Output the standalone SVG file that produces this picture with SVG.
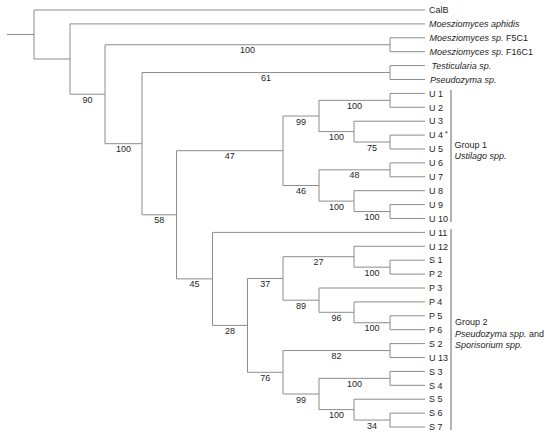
<svg xmlns="http://www.w3.org/2000/svg" width="550" height="435" viewBox="0 0 550 435">
<style>
.br{fill:none;stroke:#8c8c8c;stroke-width:1}
.bar{fill:none;stroke:#666;stroke-width:1}
text{font-family:"Liberation Sans",Arial,sans-serif;font-size:9px;fill:#1e1e1e}
.bs{text-anchor:middle}
.it{font-style:italic}
</style>
<rect width="550" height="435" fill="#fff"/>
<g id="connectors" class="br">
<path d="M7 34.5H34M34 10V59M34 10H425M34 59H70"/>
<path d="M70 23.9V94.2M70 23.9H425M70 94.2H105"/>
<path d="M105 44.75V143.7M105 44.75H390M105 143.7H142"/>
<path d="M390 37.8V51.7M390 37.8H425M390 51.7H425"/>
<path d="M142 72.55V214.8M142 72.55H390M142 214.8H176.5"/>
<path d="M390 65.6V79.5M390 65.6H425M390 79.5H425"/>
<path d="M176.5 150.7V278.9M176.5 150.7H283M176.5 278.9H212.5"/>
<path d="M283 116V185.5M283 116H319M283 185.5H319"/>
<path d="M319 100.35V131.6M319 100.35H390M319 131.6H354"/>
<path d="M390 93.4V107.3M390 93.4H425M390 107.3H425"/>
<path d="M354 121.2V142.05M354 121.2H425M354 142.05H390"/>
<path d="M390 135.1V149M390 135.1H425M390 149H425"/>
<path d="M319 169.85V201.1M319 169.85H390M319 201.1H354"/>
<path d="M390 162.9V176.8M390 162.9H425M390 176.8H425"/>
<path d="M354 190.7V211.55M354 190.7H425M354 211.55H390"/>
<path d="M390 204.6V218.5M390 204.6H425M390 218.5H425"/>
<path d="M212.5 232.4V325.4M212.5 232.4H425M212.5 325.4H247.5"/>
<path d="M247.5 278.5V372.3M247.5 278.5H283M247.5 372.3H283"/>
<path d="M283 256.7V300.2M283 256.7H354M283 300.2H319"/>
<path d="M354 246.3V267.15M354 246.3H425M354 267.15H390"/>
<path d="M390 260.2V274.1M390 260.2H425M390 274.1H425"/>
<path d="M319 288V312.3M319 288H425M319 312.3H354"/>
<path d="M354 301.9V322.75M354 301.9H425M354 322.75H390"/>
<path d="M390 315.8V329.7M390 315.8H425M390 329.7H425"/>
<path d="M283 350.55V394M283 350.55H390M283 394H319"/>
<path d="M390 343.6V357.5M390 343.6H425M390 357.5H425"/>
<path d="M319 378.35V409.6M319 378.35H390M319 409.6H354"/>
<path d="M390 371.4V385.3M390 371.4H425M390 385.3H425"/>
<path d="M354 399.2V420.05M354 399.2H425M354 420.05H390"/>
<path d="M390 413.1V427M390 413.1H425M390 427H425"/>
</g>
<g id="bootstrap" class="bs">
<text class="bs" x="87.5" y="102.7">90</text>
<text class="bs" x="247.5" y="53.2">100</text>
<text class="bs" x="123.5" y="152.2">100</text>
<text class="bs" x="266" y="81">61</text>
<text class="bs" x="159.25" y="223.3">58</text>
<text class="bs" x="229.75" y="159.2">47</text>
<text class="bs" x="301" y="124.5">99</text>
<text class="bs" x="354.5" y="108.85">100</text>
<text class="bs" x="336.5" y="140.1">100</text>
<text class="bs" x="372" y="150.55">75</text>
<text class="bs" x="301" y="194">46</text>
<text class="bs" x="354.5" y="178.35">48</text>
<text class="bs" x="336.5" y="209.6">100</text>
<text class="bs" x="372" y="220.05">100</text>
<text class="bs" x="194.5" y="287.4">45</text>
<text class="bs" x="230" y="333.9">28</text>
<text class="bs" x="265.25" y="287">37</text>
<text class="bs" x="318.5" y="265.2">27</text>
<text class="bs" x="372" y="275.65">100</text>
<text class="bs" x="301" y="308.7">89</text>
<text class="bs" x="336.5" y="320.8">96</text>
<text class="bs" x="372" y="331.25">100</text>
<text class="bs" x="265.25" y="380.8">76</text>
<text class="bs" x="336.5" y="359.05">82</text>
<text class="bs" x="301" y="402.5">99</text>
<text class="bs" x="354.5" y="386.85">100</text>
<text class="bs" x="336.5" y="418.1">100</text>
<text class="bs" x="372" y="428.55">34</text>
</g>
<g id="leaf-CalB"><text x="429" y="13.2">CalB</text></g>
<g id="leaf-M-aphidis"><text x="429" y="27.1" class="it">Moesziomyces aphidis</text></g>
<g id="leaf-F5C1"><text x="429.5" y="41"><tspan class="it">Moesziomyces sp.</tspan> F5C1</text></g>
<g id="leaf-F16C1"><text x="429.5" y="54.9"><tspan class="it">Moesziomyces sp.</tspan> F16C1</text></g>
<g id="leaf-Testicularia"><text x="431.5" y="68.8" class="it">Testicularia sp.</text></g>
<g id="leaf-Pseudozyma"><text x="430" y="82.7" class="it">Pseudozyma sp.</text></g>
<g id="leaf-U1"><text x="429" y="96.6">U 1</text></g>
<g id="leaf-U2"><text x="429" y="110.5">U 2</text></g>
<g id="leaf-U3"><text x="429" y="124.4">U 3</text></g>
<g id="leaf-U4"><text x="429" y="138.3">U 4<tspan dx="2" dy="-2" font-size="7">*</tspan></text></g>
<g id="leaf-U5"><text x="429" y="152.2">U 5</text></g>
<g id="leaf-U6"><text x="429" y="166.1">U 6</text></g>
<g id="leaf-U7"><text x="429" y="180">U 7</text></g>
<g id="leaf-U8"><text x="429" y="193.9">U 8</text></g>
<g id="leaf-U9"><text x="429" y="207.8">U 9</text></g>
<g id="leaf-U10"><text x="429" y="221.7">U 10</text></g>
<g id="leaf-U11"><text x="429" y="235.6">U 11</text></g>
<g id="leaf-U12"><text x="429" y="249.5">U 12</text></g>
<g id="leaf-S1"><text x="429" y="263.4">S 1</text></g>
<g id="leaf-P2"><text x="429" y="277.3">P 2</text></g>
<g id="leaf-P3"><text x="429" y="291.2">P 3</text></g>
<g id="leaf-P4"><text x="429" y="305.1">P 4</text></g>
<g id="leaf-P5"><text x="429" y="319">P 5</text></g>
<g id="leaf-P6"><text x="429" y="332.9">P 6</text></g>
<g id="leaf-S2"><text x="429" y="346.8">S 2</text></g>
<g id="leaf-U13"><text x="429" y="360.7">U 13</text></g>
<g id="leaf-S3"><text x="429" y="374.6">S 3</text></g>
<g id="leaf-S4"><text x="429" y="388.5">S 4</text></g>
<g id="leaf-S5"><text x="429" y="402.4">S 5</text></g>
<g id="leaf-S6"><text x="429" y="416.3">S 6</text></g>
<g id="leaf-S7"><text x="429" y="430.2">S 7</text></g>
<g id="group1">
<path class="bar" d="M451 90V222"/>
<text x="454.5" y="147.5">Group 1</text>
<text x="454.5" y="158.5" class="it">Ustilago spp.</text>
</g>
<g id="group2">
<path class="bar" d="M451 229V430"/>
<text x="455" y="325">Group 2</text>
<text x="455" y="336.5" font-size="9.3"><tspan class="it">Pseudozyma spp.</tspan> and</text>
<text x="455" y="347.5" font-size="9.3" class="it">Sporisorium spp.</text>
</g>
</svg>
